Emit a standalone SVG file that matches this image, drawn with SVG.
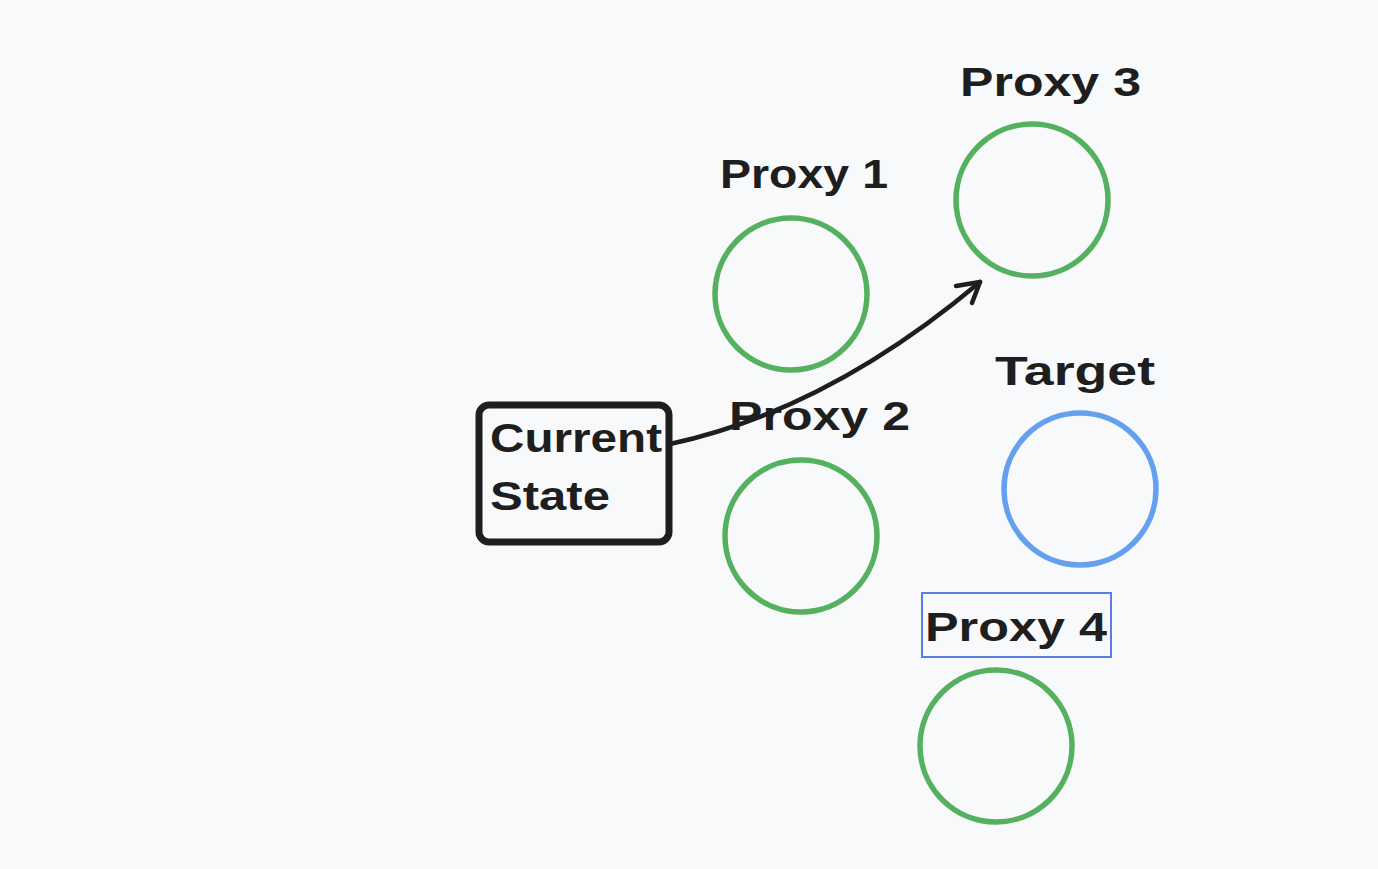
<svg xmlns="http://www.w3.org/2000/svg" width="1378" height="869" viewBox="0 0 1378 869">
<defs>
<style>
.bg{fill:#f8f9fa}
.proxy{fill:none;stroke:#55b05f;stroke-width:5.5}
.target{fill:none;stroke:#64a0ee;stroke-width:5.5}
.lbl{font-family:"Liberation Sans",Arial,sans-serif;font-weight:bold;font-size:40px;fill:#1e1e1e}
.box{fill:none;stroke:#1e1e1e;stroke-width:7}
.conn{fill:none;stroke:#1e1e1e;stroke-width:4.5;stroke-linecap:round;stroke-linejoin:round}
.sel{fill:none;stroke:#5b7ee5;stroke-width:2}
</style>
</defs>
<rect class="bg" x="0" y="0" width="1378" height="869"/>
<g id="current-state">
<rect class="box" x="479" y="405" width="190" height="137" rx="10"/>
<text class="lbl" x="490" y="452" textLength="172" lengthAdjust="spacingAndGlyphs">Current</text>
<text class="lbl" x="490" y="510" textLength="120" lengthAdjust="spacingAndGlyphs">State</text>
</g>
<g id="proxy1">
<text class="lbl" x="720" y="188" textLength="168" lengthAdjust="spacingAndGlyphs">Proxy 1</text>
<circle class="proxy" cx="791" cy="294" r="76"/>
</g>
<g id="proxy3">
<text class="lbl" x="960" y="96" textLength="181" lengthAdjust="spacingAndGlyphs">Proxy 3</text>
<circle class="proxy" cx="1032" cy="200" r="76"/>
</g>
<g id="proxy2">
<text class="lbl" x="729" y="430" textLength="181" lengthAdjust="spacingAndGlyphs">Proxy 2</text>
<circle class="proxy" cx="801" cy="536" r="76"/>
</g>
<g id="target">
<text class="lbl" x="995" y="385" textLength="160" lengthAdjust="spacingAndGlyphs">Target</text>
<circle class="target" cx="1080" cy="489" r="76"/>
</g>
<g id="proxy4">
<rect class="sel" x="922" y="593" width="189" height="64"/>
<text class="lbl" x="925" y="641" textLength="182" lengthAdjust="spacingAndGlyphs">Proxy 4</text>
<circle class="proxy" cx="996" cy="746" r="76"/>
</g>
<g id="connectors">
<path class="conn" d="M670 444 Q828 410 980 282"/>
<path class="conn" d="M956 286 L980 282 L972 303"/>
</g>
</svg>
